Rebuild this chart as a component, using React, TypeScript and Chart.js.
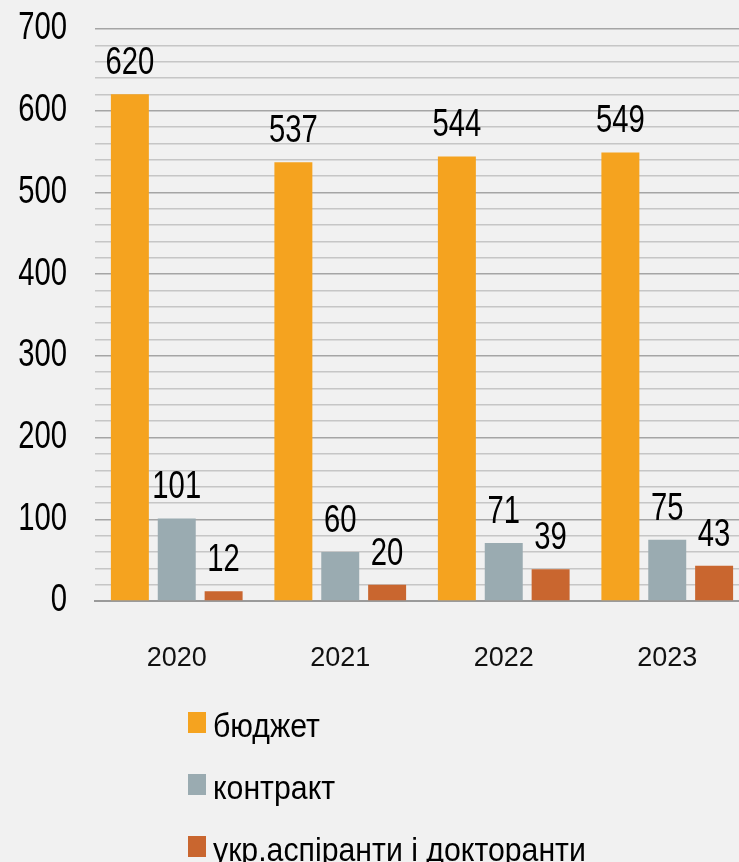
import React, { useEffect, useRef } from "react";
import { Chart, registerables } from "chart.js";

Chart.register(...registerables);

const years = ["2020", "2021", "2022", "2023"];
const budget = [620, 537, 544, 549];
const contract = [101, 60, 71, 75];
const ukr = [12, 20, 39, 43];
const seriesNames = ["бюджет", "контракт", "укр.аспіранти і докторанти"];
const seriesColors = ["#f5a31f", "#9aabb1", "#c9662f"];

const FONT = "'Liberation Sans', Arial, sans-serif";
const NUM_SIZE = 38;
const NUM_SX = 0.77;
const BG = "#f1f1f1";

const bgPlugin = {
  id: "bgFill",
  beforeDraw(chart: any) {
    const { ctx, width, height } = chart;
    ctx.save();
    ctx.fillStyle = BG;
    ctx.fillRect(0, 0, width, height);
    ctx.restore();
    // condense y tick labels horizontally (narrow display face)
    const y = chart.scales.y;
    if (y && !y.__condensed) {
      const orig = y.drawLabels.bind(y);
      y.drawLabels = function (area: any) {
        const c = chart.ctx;
        const ax = y.right - y.options.ticks.padding;
        c.save();
        c.translate(ax, 0);
        c.scale(NUM_SX, 1);
        c.translate(-ax, 0);
        orig(area);
        c.restore();
      };
      y.__condensed = true;
    }
  },
};

const valueLabelPlugin = {
  id: "valueLabels",
  afterDatasetsDraw(chart: any) {
    const { ctx } = chart;
    chart.data.datasets.forEach((ds: any, di: number) => {
      const meta = chart.getDatasetMeta(di);
      meta.data.forEach((el: any, i: number) => {
        ctx.save();
        ctx.font = `${NUM_SIZE}px ${FONT}`;
        ctx.fillStyle = "#000";
        ctx.textAlign = "center";
        ctx.textBaseline = "alphabetic";
        ctx.translate(el.x, el.y - 20);
        ctx.scale(NUM_SX, 1);
        ctx.fillText(String(ds.data[i]), 0, 0);
        ctx.restore();
      });
    });
  },
};

const legendPlugin = {
  id: "vertLegend",
  afterDraw(chart: any) {
    const { ctx, chartArea } = chart;
    chart.data.datasets.forEach((ds: any, i: number) => {
      const cy = chartArea.bottom + 121 + i * 62;
      const bx = chartArea.left + 93;
      ctx.save();
      ctx.fillStyle = ds.backgroundColor;
      ctx.fillRect(bx, cy - 10, 18, 21);
      ctx.font = `34px ${FONT}`;
      ctx.fillStyle = "#000";
      ctx.textAlign = "left";
      ctx.textBaseline = "alphabetic";
      ctx.translate(bx + 25, cy + 15);
      ctx.scale(0.89, 1);
      ctx.fillText(ds.label, 0, 0);
      ctx.restore();
    });
  },
};

export default function App() {
  const ref = useRef<HTMLCanvasElement | null>(null);

  useEffect(() => {
    if (!ref.current) return;
    const chart = new Chart(ref.current, {
      type: "bar",
      data: {
        labels: years,
        datasets: [budget, contract, ukr].map((d, i) => ({
          label: seriesNames[i],
          data: d,
          backgroundColor: seriesColors[i],
          borderWidth: 0,
          barPercentage: 0.81,
          categoryPercentage: 0.86,
        })),
      },
      options: {
        responsive: false,
        animation: false,
        devicePixelRatio: 1,
        layout: { padding: { top: 29, left: 0, right: 0, bottom: 0 } },
        plugins: {
          legend: { display: false },
          tooltip: { enabled: false },
        },
        scales: {
          x: {
            grid: { display: false, drawTicks: false },
            border: { display: true, color: "#9a9a9a", width: 2 },
            ticks: {
              color: "#111",
              font: { family: FONT, size: 27 },
              padding: 41,
            },
            afterFit(scale: any) {
              scale.height = 261;
            },
          },
          y: {
            min: 0,
            max: 700,
            grid: {
              drawTicks: false,
              color: (c: any) => (c.tick && c.tick.value % 100 === 0 ? "#a5a5a5" : "#c6c6c6"),
              lineWidth: 1.5,
            },
            border: { display: false },
            ticks: {
              stepSize: 20,
              autoSkip: false,
              color: "#000",
              padding: 28,
              font: { family: FONT, size: NUM_SIZE },
              callback: (v: any) => (Number(v) % 100 === 0 ? String(v) : ""),
            },
            afterFit(scale: any) {
              scale.width = 95;
              scale.paddingTop = 0;
              scale.paddingBottom = 0;
            },
          },
        },
      },
      plugins: [bgPlugin, valueLabelPlugin, legendPlugin],
    });
    return () => chart.destroy();
  }, []);

  return (
    <div
      style={{
        position: "fixed",
        left: 0,
        top: 0,
        width: 739,
        height: 862,
        overflow: "hidden",
        background: BG,
      }}
    >
      <canvas ref={ref} width={749} height={862} style={{ display: "block" }} />
    </div>
  );
}
